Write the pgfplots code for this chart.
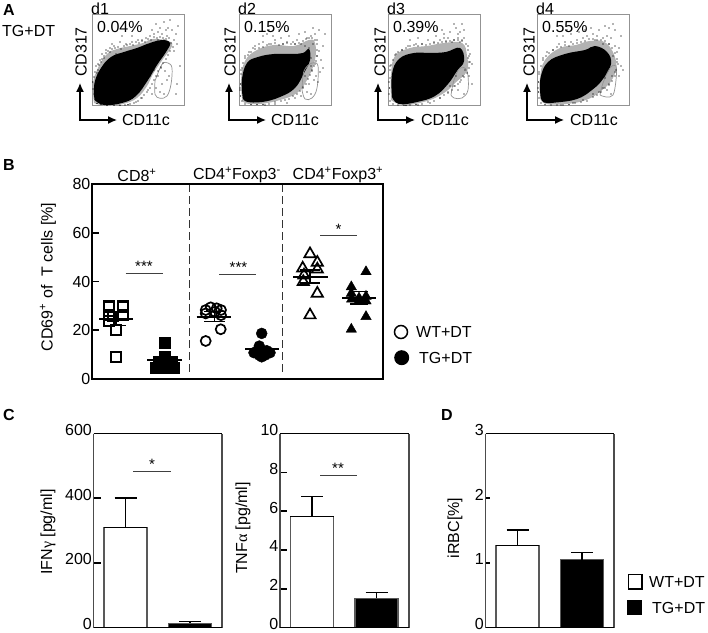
\documentclass[border=0pt]{standalone}
\usepackage{pgfplots}
\pgfplotsset{compat=1.18}
\usetikzlibrary{arrows.meta}
\usepackage{fontspec}
\setmainfont{Liberation Sans}
\newfontfamily\symf{Liberation Serif}
\newcommand{\fs}{\fontsize{16}{18}\selectfont}
\newcommand{\st}{\fontsize{15}{15}\selectfont}
\pgfplotsset{
  flow/.style={scale only axis,width=92pt,height=91pt,xmin=0,xmax=92,ymin=0,ymax=91,
    anchor=south west,xtick=\empty,ytick=\empty,axis line style={draw=gray!85,line width=1pt}},
  dots/.style={only marks,mark=*,mark size=0.32pt,mark options={draw=none,fill=black}},
  gate/.style={draw=gray!85,line width=0.7pt,smooth,tension=0.6,mark=none},
  core/.style={fill=black,draw=none,smooth,tension=0.7,mark=none},
  halo/.style={fill=gray!60,draw=none,smooth,tension=0.7,mark=none},
  frame/.style={scale only axis,anchor=south west,clip=false,axis line style={draw=none},
    xtick=\empty,tick pos=left,major tick length=7pt,
    tick style={black,line width=1.6pt},
    major tick style={black,line width=1.6pt},
    /pgf/number format/assume math mode=true,
    tick label style={font=\fs},
    yticklabel style={inner xsep=1.5pt,inner ysep=0pt}},
  low/.style={yticklabel style={yshift=3.5pt}},
  bar/.style={ybar,bar shift=0pt,bar width=43pt,draw=black!65,line width=1.2pt,
    error bars/y dir=plus,error bars/y explicit,
    error bars/error bar style={black,line width=1.3pt},
    error bars/error mark options={rotate=90,mark size=11pt,black,line width=1.3pt}},
  mean/.style={black,line width=2pt,mark=none},
  sem/.style={black,line width=1.5pt,mark=none},
  sig/.style={black!75,line width=1.1pt,mark=none},
}
\begin{document}
\begin{tikzpicture}
\path[use as bounding box] (0,0) rectangle (708pt,632pt);
% ---------- panel A
\begin{axis}[flow,at={(92pt,526pt)}]
\addplot[halo] coordinates {(2,3)(1,22)(6,38)(15,52)(25,57)(38,60)(51,63)(61,67)(76,65)(80,60)(71,47)(61,32)(55,20)(45,8)(31,2)(15,0)(2,3)};
\addplot[core] coordinates {(2.5,6)(2.5,23)(9,38)(19,49)(32,54)(45,58)(58,63)(70,66)(78,63)(74,54)(65,41)(56,26)(44,10)(30,3)(12,1)(2.5,6)};
\addplot[gate] coordinates {(63,25)(70,41.7)(76,43)(80,38)(79,21.7)(75,10)(68,7.7)(63,11.7)(63,25)};
\addplot[dots] coordinates {(66,30)(70,22)(73,35)(68,14)(75,26)(72,12)(64,18)(77,30)(69,38)(82,55)(85,62)(70,72)(75,70)(68,78)(72,84)(78,86)(66,74)(62,72)(58,70)(54,68)(50,66)(46,66)(40,64)(34,62)(28,64)(22,60)(20,62)(14,56)(10,52)(8,46)(4,40)(80,76)(84,72)(86,80)(60,76)(64,82)(74,76)(72,66)(82,66)(88,40)(85,22)(84,12)(60,12)(56,16)(50,8)(44,4)(36,1.5)(74,58)(69,57)(62,36)(58,30)(65,44)(40,70)(30,70)(24,52)(18,58)(12,48)(6,42)(76,78)(66,66)
(5,33)(6,36)(7,41)(9,44)(10,47)(12,50)(14,53)(16,55)(18,54)(20,57)(23,58)(26,59)(29,57)(32,60)(35,61)(38,62)(41,61)(44,64)(47,63)(50,65)(53,64)(56,67)(59,66)(62,69)(65,68)(68,69)(71,68)(74,67)(77,68)(79,63)(81,59)(78,55)(76,51)(74,47)(71,43)(69,39)(66,35)(64,30)(62,26)(60,22)(58,18)(55,14)(52,11)(49,8)(46,5)(42,3)(38,2)(2,12)(1,17)(0.8,24)(2,29)(3,34)(33,1)(28,0.8)(22,0.7)(15,0.5)(9,1.5)(5,2.5)};
\end{axis}
\begin{axis}[flow,at={(239pt,526pt)}]
\addplot[halo] coordinates {(3,8)(2,26)(6,45)(18,56)(35,61)(55,60)(70,66)(76,63)(76,46)(68,26)(58,13)(41,6)(21,2)(6,3)(3,8)};
\addplot[core] coordinates {(3.5,10)(3,27)(8,43)(19,49)(35,52)(52,52)(64,53)(70,57)(71,46)(65,33)(56,18)(41,9)(23,4)(7,4.5)(3.5,10)};
\addplot[gate] coordinates {(63,16)(65,35)(73,43)(79,40)(78,18)(73,8)(66,7)(63,16)};
\addplot[dots] coordinates {(66,30)(70,22)(73,35)(68,14)(75,26)(72,12)(64,18)(77,30)(72,40)(78,50)(80,55)(72,70)(76,72)(78,66)(68,68)(62,62)(58,66)(54,64)(48,64)(42,68)(36,66)(30,62)(24,64)(20,62)(14,58)(10,54)(6,50)(2,36)(1,18)(82,46)(84,60)(74,78)(80,76)(86,72)(66,74)(60,72)(50,70)(34,70)(28,72)(62,10)(56,8)(48,3)(36,2)(26,1)(70,58)(74,62)(66,60)(79,24)(81,34)(84,38)(16,60)(44,62)(56,62)(72,48)(76,42)(30,76)(40,76)(24,70)
(2,32)(3,38)(4,43)(6,48)(9,51)(12,54)(16,57)(20,58)(24,59)(28,61)(32,62)(36,63)(40,61)(44,62)(48,63)(52,62)(56,62)(60,63)(64,65)(67,67)(70,68)(73,68)(76,66)(78,62)(78,56)(78,50)(77,45)(75,40)(73,36)(71,31)(69,27)(67,22)(64,19)(61,15)(58,12)(54,10)(50,7)(46,6)(42,5)(36,4)(30,2)(24,1.5)(18,1.5)(12,1.5)(6,2)(3,5)(1.5,10)(1,16)(1.5,22)};
\end{axis}
\begin{axis}[flow,at={(388pt,526pt)}]
\addplot[halo] coordinates {(3,6)(3,31)(7,50)(22,58)(39,60)(56,63)(74,63)(79,50)(79,35)(67,23)(56,13)(39,5)(16,1)(3,6)};
\addplot[core] coordinates {(4,9)(4,32)(11,47)(26,53)(42,53)(58,54)(72,58)(76,45)(69,35)(60,22)(47,10)(29,4)(11,2)(4,9)};
\addplot[gate] coordinates {(63,11)(66,26)(72,38)(79,35)(80,16)(74,8)(66,8)(63,11)};
\addplot[dots] coordinates {(68,30)(72,24)(75,30)(70,16)(66,20)(76,12)(62,20)(77,36)(74,66)(76,68)(70,68)(66,66)(60,68)(56,68)(52,66)(46,64)(40,66)(34,62)(28,62)(20,60)(14,56)(8,52)(2,40)(1,24)(1,12)(72,74)(68,78)(74,82)(70,72)(62,74)(80,60)(82,52)(84,42)(81,30)(84,22)(76,76)(66,82)(56,72)(22,66)(30,68)(48,70)(54,76)(60,14)(52,8)(42,3)(30,1)(18,0.5)(64,64)(72,64)(58,64)(80,48)(82,44)
(2,36)(3,41)(5,46)(7,51)(10,54)(14,56)(18,58)(22,60)(26,61)(30,60)(34,62)(38,61)(42,62)(46,63)(50,63)(54,64)(58,65)(62,65)(66,66)(70,66)(74,65)(78,62)(80,56)(81,50)(81,44)(81,38)(79,33)(76,29)(73,26)(70,22)(67,20)(64,16)(60,13)(56,11)(52,8)(46,5)(40,4)(34,2)(28,1.5)(22,1)(16,0.8)(10,1)(5,2)(2,5)(1.5,18)(2,28)};
\end{axis}
\begin{axis}[flow,at={(537pt,526pt)}]
\addplot[halo] coordinates {(3,8)(3,28)(8,46)(23,58)(39,61)(53,65)(69,63)(79,45)(76,28)(64,15)(49,6)(29,2)(9,2)(3,8)};
\addplot[core] coordinates {(3.5,10)(3.5,28)(11,44)(28,52)(48,56)(58,60)(70,54)(74,42)(66,27)(55,16)(40,7)(19,3.5)(7,3.5)(3.5,10)};
\addplot[gate] coordinates {(63,11)(66,23)(73,38)(79,40)(79,26)(76,11)(69,9)(63,11)};
\addplot[dots] coordinates {(68,28)(72,22)(75,30)(70,16)(66,18)(74,12)(62,14)(78,34)(80,44)(84,40)(82,30)(86,36)(60,70)(56,72)(50,70)(46,68)(40,66)(34,64)(28,64)(22,62)(16,56)(10,54)(6,48)(2,32)(1,18)(66,68)(70,70)(74,68)(78,60)(80,54)(62,76)(68,80)(72,78)(76,82)(78,76)(84,70)(42,74)(34,72)(26,70)(20,70)(54,78)(48,76)(56,12)(46,6)(36,3)(24,1)(82,58)(72,62)(58,66)(66,62)(76,50)(30,76)
(2,34)(4,40)(6,46)(9,50)(12,53)(16,56)(20,59)(24,59)(28,61)(32,60)(36,62)(40,63)(44,64)(48,65)(52,67)(56,67)(60,66)(64,66)(68,65)(72,62)(75,58)(78,53)(80,47)(81,42)(79,36)(78,30)(75,25)(72,21)(68,18)(64,14)(60,11)(56,9)(50,5)(44,4)(38,3)(32,1.5)(26,1)(20,1)(14,1)(8,1.2)(4,3)(2,8)(1.5,14)(1.5,24)};
\end{axis}
% ---------- panel B
\begin{axis}[frame,at={(92pt,253pt)},width=291pt,height=195pt,xmin=92,xmax=383,ymin=0,ymax=80,ytick={0,20,40,60,80}]
\addplot[black!80,line width=0.9pt,dash pattern=on 8pt off 4pt,mark=none] coordinates {(189,3)(189,80)};
\addplot[black!80,line width=0.9pt,dash pattern=on 8pt off 4pt,mark=none] coordinates {(282,3)(282,80)};
% CD8
\addplot[only marks,mark=square,mark size=5pt,mark options={draw=black,line width=1.7pt}] coordinates {(109.3,29.4)(123.3,29.4)(109.3,30.2)(123.3,30.2)(109.3,26.2)(123.3,26.2)(113,25.6)(109.3,23.9)(116,20.1)(116,9.1)};
\addplot[mean] coordinates {(99,24.6)(133,24.6)};
\addplot[sem] coordinates {(106,22)(126,22)};
\addplot[sem] coordinates {(106,27.2)(126,27.2)};
\addplot[sem] coordinates {(116,22)(116,27.2)};
\addplot[only marks,mark=square*,mark size=5.6pt,mark options={draw=none,fill=black}] coordinates {(164.7,14.9)(164.7,9.1)(158.3,7.1)(171.7,7.1)(155.7,4.8)(164.7,5.3)(174,4.8)(160,4.8)(170,4.8)};
\addplot[mean] coordinates {(147,7.6)(182,7.6)};
\addplot[sig] coordinates {(125.7,43.3)(162.7,43.3)};
% CD4 Foxp3-
\addplot[only marks,mark=o,mark size=5pt,mark options={draw=black,line width=1.7pt}] coordinates {(205.7,28.3)(210.7,29.4)(216.7,29)(221,28.3)(205.7,26.9)(221,26.2)(215,27.6)(220.7,20.4)(205.7,15.6)};
\addplot[mean] coordinates {(196.7,25.6)(230.7,25.6)};
\addplot[sem] coordinates {(204,23.5)(225,23.5)};
\addplot[sem] coordinates {(204,27.7)(225,27.7)};
\addplot[sem] coordinates {(214.5,23.5)(214.5,27.7)};
\addplot[only marks,mark=*,mark size=5.5pt,mark options={draw=none,fill=black}] coordinates {(261.7,18.7)(259.3,13.5)(256.7,11.2)(266.7,11.6)(254,10.8)(270,10.8)(259.3,9.8)(261.7,9.1)(265,9.8)};
\addplot[mean] coordinates {(245,12.2)(279,12.2)};
\addplot[sig] coordinates {(219,42.9)(256,42.9)};
% CD4 Foxp3+
\addplot[only marks,mark=triangle,mark size=6.5pt,mark options={draw=black,line width=1.7pt}] coordinates {(310,51.3)(317.3,47.8)(317.3,45)(302.7,45.4)(304,42.6)(303.3,39.9)(317.3,35.1)(310,26.2)};
\addplot[mean] coordinates {(293,42)(328,42)};
\addplot[sem] coordinates {(300,44.7)(320,44.7)};
\addplot[sem] coordinates {(300,39.3)(320,39.3)};
\addplot[sem] coordinates {(310,39.3)(310,44.7)};
\addplot[only marks,mark=triangle*,mark size=6pt,mark options={draw=none,fill=black}] coordinates {(366,44)(351.3,37.8)(351.3,35.1)(359,33.2)(366,33.9)(351.7,32.8)(366,32)(359,32)(366,25.6)(351.3,20.4)};
\addplot[mean] coordinates {(342,33.1)(376,33.1)};
\addplot[sem,white,line width=0.8pt] coordinates {(359,31)(359,35.5)};
\addplot[sem] coordinates {(350,35.8)(368,35.8)};
\addplot[sem] coordinates {(350,30.8)(368,30.8)};
\addplot[sig] coordinates {(320,58.7)(357,58.7)};
\draw[black,line width=2pt] (rel axis cs:0,0) rectangle (rel axis cs:1,1);
\end{axis}
% ---------- panel C
\begin{axis}[frame,low,at={(93.5pt,4.5pt)},width=128.5pt,height=194pt,xmin=93.5,xmax=222,ymin=0,ymax=600,ytick={0,200,400,600}]
\addplot[bar,fill=white] coordinates {(125.5,309) +- (0,92)};
\addplot[bar,fill=black] coordinates {(190,13.4) +- (0,5.2)};
\addplot[black,line width=1.6pt,mark=none] coordinates {(104,309)(147,309)};
\addplot[sig] coordinates {(133,482)(171,482)};
\draw[black!70,line width=1.2pt] (rel axis cs:0,0)--(rel axis cs:0,1) (rel axis cs:1,0)--(rel axis cs:1,1);
\draw[black,line width=1.8pt] (rel axis cs:0,0)--(rel axis cs:1,0) (rel axis cs:0,1)--(rel axis cs:1,1);
\end{axis}
\begin{axis}[frame,low,at={(280pt,4.5pt)},width=129pt,height=194pt,xmin=280,xmax=409,ymin=0,ymax=10,ytick={0,2,4,6,8,10}]
\addplot[bar,fill=white] coordinates {(312,5.72) +- (0,1.02)};
\addplot[bar,fill=black] coordinates {(376.5,1.51) +- (0,0.29)};
\addplot[black,line width=1.6pt,mark=none] coordinates {(290,5.72)(334,5.72)};
\addplot[sig] coordinates {(320,7.84)(357,7.84)};
\draw[black!70,line width=1.2pt] (rel axis cs:0,0)--(rel axis cs:0,1) (rel axis cs:1,0)--(rel axis cs:1,1);
\draw[black,line width=1.8pt] (rel axis cs:0,0)--(rel axis cs:1,0) (rel axis cs:0,1)--(rel axis cs:1,1);
\end{axis}
% ---------- panel D
\begin{axis}[frame,low,at={(485.5pt,4.5pt)},width=128.5pt,height=194pt,xmin=485.5,xmax=614,ymin=0,ymax=3,ytick={0,1,2,3},major tick length=4pt]
\addplot[bar,fill=white] coordinates {(517.5,1.27) +- (0,0.24)};
\addplot[bar,fill=black] coordinates {(582,1.05) +- (0,0.11)};
\addplot[black,line width=1.6pt,mark=none] coordinates {(496,1.27)(539,1.27)};
\draw[black!70,line width=1.2pt] (rel axis cs:0,0)--(rel axis cs:0,1) (rel axis cs:1,0)--(rel axis cs:1,1);
\draw[black,line width=1.8pt] (rel axis cs:0,0)--(rel axis cs:1,0) (rel axis cs:0,1)--(rel axis cs:1,1);
\end{axis}
% ---------- text and annotation, in reference pixel coordinates
\begin{scope}[x=1pt,y=-1pt,yshift=632pt,every node/.style={font=\fs,inner sep=0pt}]
\node[anchor=west,font=\fs\bfseries] at (3,10) {A};
\node[anchor=west,font=\fs\bfseries] at (3,165) {B};
\node[anchor=west,font=\fs\bfseries] at (3,415) {C};
\node[anchor=west,font=\fs\bfseries] at (441,415) {D};
\node[anchor=west] at (2,31) {TG+DT};
\foreach \fx/\cx/\lx/\tx/\ttl/\pct in {92/80/81/146/d1/0.04\%,239/229/230/295/d2/0.15\%,388/378/380/445/d3/0.39\%,537/527/529/594/d4/0.55\%}{
  \node[anchor=west] at (\fx-1,9) {\ttl};
  \node[anchor=west] at (\fx+5,27) {\pct};
  \node[rotate=90] at (\lx,52) {CD317};
  \node at (\tx,120) {CD11c};
  \draw[black,line width=1.3pt,{Latex[length=9pt,width=8pt]}-{Latex[length=9pt,width=8pt]}] (\cx,83)--(\cx,120)--(\cx+37,120);
}
\node at (137,175) {CD8\textsuperscript{+}};
\node at (237,175) {CD4\textsuperscript{+}Foxp3\textsuperscript{-}};
\node at (338,175) {CD4\textsuperscript{+}Foxp3\textsuperscript{+}};
\node[rotate=90] at (48,277) {CD69\textsuperscript{+} of~ T cells [\%]};
\node at (144,266) {\st ***};
\node at (238.5,267) {\st ***};
\node at (338.5,229) {\st *};
\draw[black,line width=1.5pt] (401,332) circle (6.5);
\fill[black] (401.7,357.7) circle (7.5);
\node[anchor=west] at (416,332) {WT+DT};
\node[anchor=west] at (419,358) {TG+DT};
\node[rotate=90] at (48,532) {IFN{\symf γ} [pg/ml]};
\node[rotate=90] at (243,528) {TNF{\symf α} [pg/ml]};
\node[rotate=90] at (455,528) {iRBC[\%]};
\node at (152,464) {\st *};
\node at (338,468) {\st **};
\draw[black,line width=1.4pt] (628.5,574.5) rectangle (642,589);
\fill[black] (627,600) rectangle (642,615);
\node[anchor=west] at (649,582) {WT+DT};
\node[anchor=west] at (652,608) {TG+DT};
\end{scope}
\end{tikzpicture}
\end{document}
